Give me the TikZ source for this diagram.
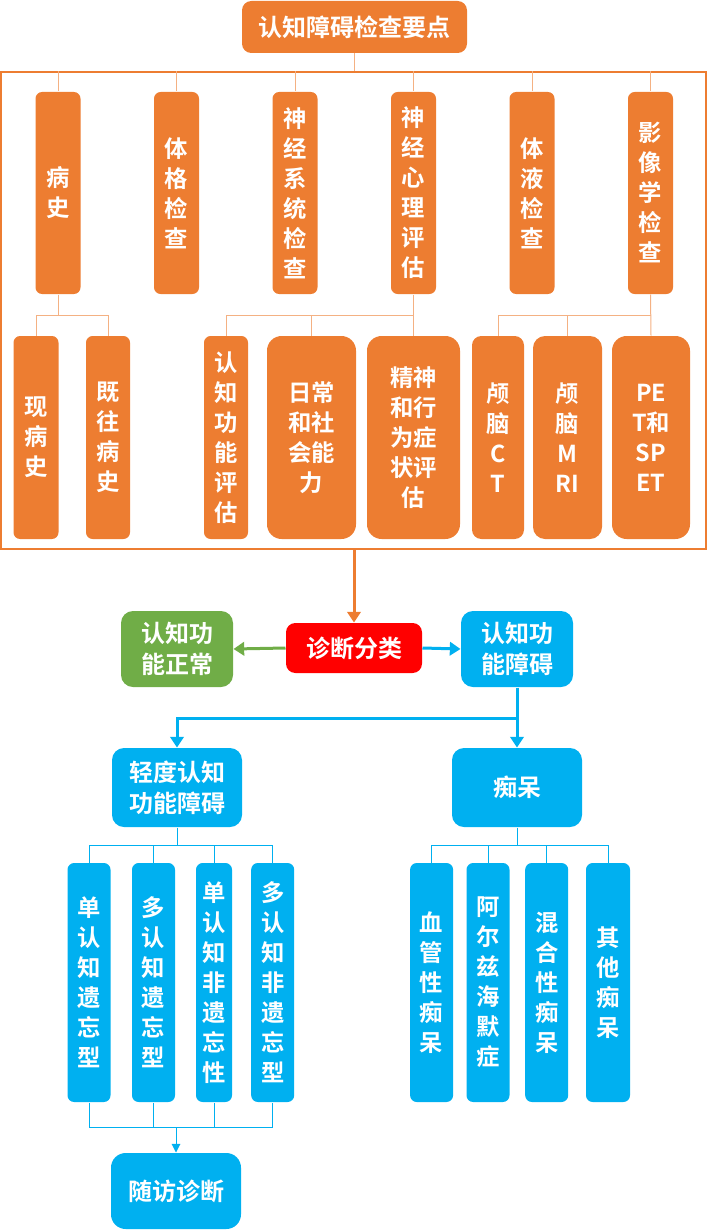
\documentclass[tikz,border=0pt]{standalone}
\usepackage{fontspec}
\setmainfont{Noto Sans CJK SC}[BoldFont={* Bold}]
\usetikzlibrary{arrows.meta}

\definecolor{boxorange}{RGB}{237,125,49}
\definecolor{lineorange}{RGB}{244,177,131}
\definecolor{boxblue}{RGB}{0,176,240}
\definecolor{boxgreen}{RGB}{112,173,71}
\definecolor{boxred}{RGB}{255,0,0}

\tikzset{every picture/.style={line width=0.75pt}}
\tikzset{
  obox/.style={fill=boxorange, rounded corners=5pt, text=white, align=center, inner sep=0pt,
    font=\bfseries\fontsize{17.5}{22.5}\selectfont},
  bbox/.style={obox, fill=boxblue},
  wbox/.style={fill=#1, rounded corners=7pt, text=white, align=center, inner sep=0pt,
    font=\bfseries\fontsize{18}{23}\selectfont},
  oline/.style={draw=lineorange, line width=0.75pt},
  bline/.style={draw=boxblue, line width=0.75pt},
  thick arrow/.style={draw=#1, line width=2.25pt, -{Triangle[width=10pt,length=8pt]}},
  thin arrow/.style={draw=boxblue, line width=0.75pt, -{Triangle[width=6.5pt,length=6.5pt]}}
}

\begin{document}
\begin{tikzpicture}[x=0.75pt,y=0.75pt,yscale=-1,xscale=1]
\useasboundingbox (0,0) rectangle (707,1231);

% Top box
\node [wbox=boxorange, minimum width=168.75pt, minimum height=39pt] (main) at (354.5,27) {认知障碍检查要点};
% Frame
\node [draw=boxorange, line width=1pt, minimum width=528.75pt, minimum height=357.75pt, inner sep=0pt] (frame) at (353.5,310.5) {};
\coordinate (bus1) at (0,315);

% First row
\node [obox, minimum width=33.75pt, minimum height=151.5pt] (bs) at (58,193) {病\\史};
\node [obox, minimum width=33.75pt, minimum height=151.5pt] (tg) at (176.5,193) {体\\格\\检\\查};
\node [obox, minimum width=33.75pt, minimum height=151.5pt] (sj) at (295,193) {神\\经\\系\\统\\检\\查};
\node [obox, minimum width=33.75pt, minimum height=151.5pt] (xl) at (413.5,193) {神\\经\\心\\理\\评\\估};
\node [obox, minimum width=33.75pt, minimum height=151.5pt] (ty) at (532,193) {体\\液\\检\\查};
\node [obox, minimum width=33.75pt, minimum height=151.5pt] (yx) at (650.5,193) {影\\像\\学\\检\\查};

% Second row
\node [obox, minimum width=33.75pt, minimum height=152.25pt] (xbs) at (36,437.5) {现\\病\\史};
\node [obox, minimum width=33pt, minimum height=152.25pt] (jwbs) at (108,437.5) {既\\往\\病\\史};
\node [obox, minimum width=33pt, minimum height=152.25pt] (rzpg) at (226,437.5) {认\\知\\功\\能\\评\\估};
\node [obox, rounded corners=11pt, minimum width=66.75pt, minimum height=152.25pt] (rcsh) at (311.5,437.5) {日常\\和社\\会能\\力};
\node [obox, rounded corners=11pt, minimum width=69.75pt, minimum height=152.25pt] (jsxw) at (413.5,437.5) {精神\\和行\\为症\\状评\\估};
\node [obox, rounded corners=7pt, minimum width=39pt, minimum height=152.25pt] (ct) at (498,437.5) {颅\\脑\\C\\T};
\node [obox, rounded corners=9pt, minimum width=51.75pt, minimum height=152.25pt] (mri) at (567.5,437.5) {颅\\脑\\M\\RI};
\node [obox, rounded corners=11pt, minimum width=58.5pt, minimum height=152.25pt] (pet) at (651,437.5) {PE\\T和\\SP\\ET};

% Connectors in frame
\draw [oline] (main.south) -- (frame.north -| main.south);
\foreach \n in {bs,tg,sj,xl,ty,yx}
  \draw [oline] (frame.north -| \n.north) -- (\n.north);
\draw [oline] (bs.south) -- (bs.south |- bus1);
\draw [oline] (xbs.north) |- (jwbs.north |- bus1) -- (jwbs.north);
\draw [oline] (xl.south) -- (jsxw.north);
\draw [oline] (rzpg.north) |- (xl.south |- bus1);
\draw [oline] (rcsh.north) -- (rcsh.north |- bus1);
\draw [oline] (yx.south) -- (pet.north);
\draw [oline] (ct.north) |- (yx.south |- bus1);
\draw [oline] (mri.north) -- (mri.north |- bus1);

% Diagnosis
\node [wbox=boxred, minimum width=102pt, minimum height=37.5pt] (zd) at (354,648) {诊断分类};
\node [wbox=boxgreen, rounded corners=9pt, minimum width=84pt, minimum height=57pt] (zc) at (177,649) {认知功\\能正常};
\node [wbox=boxblue, rounded corners=9pt, minimum width=84pt, minimum height=57pt] (za) at (517,649) {认知功\\能障碍};
\node [wbox=boxblue, rounded corners=9pt, minimum width=97.5pt, minimum height=59.25pt] (mci) at (177,787.5) {轻度认知\\功能障碍};
\node [wbox=boxblue, rounded corners=9pt, minimum width=97.5pt, minimum height=59.25pt] (cd) at (517,787.5) {痴呆};
\coordinate (bus2) at (0,718);

\draw [thick arrow=boxorange] (frame.south -| zd.north) -- (zd.north);
\draw [thick arrow=boxgreen] (zd.west) -- (zc.east);
\draw [thick arrow=boxblue] (zd.east) -- (za.west);
\draw [thick arrow=boxblue] (za.south) -- (cd.north);
\draw [thick arrow=boxblue] (za.south |- bus2) -| (mci.north);

% Bottom left
\node [bbox, minimum width=32.25pt, minimum height=179.25pt] (dy) at (89,982.5) {单\\认\\知\\遗\\忘\\型};
\node [bbox, minimum width=32.25pt, minimum height=179.25pt] (duo) at (153.5,982.5) {多\\认\\知\\遗\\忘\\型};
\node [bbox, minimum width=27pt, minimum height=179.25pt] (dfy) at (214,982.5) {单\\认\\知\\非\\遗\\忘\\性};
\node [bbox, minimum width=32.25pt, minimum height=179.25pt] (duofy) at (272.7,982.5) {多\\认\\知\\非\\遗\\忘\\型};
\node [wbox=boxblue, rounded corners=11pt, minimum width=97.5pt, minimum height=57pt] (sf) at (176,1191) {随访诊断};
\coordinate (bus3) at (0,845);
\coordinate (bus4) at (0,1127);

\draw [bline] (mci.south) -- (mci.south |- bus3);
\draw [bline] (dy.north) |- (duofy.north |- bus3) -- (duofy.north);
\draw [bline] (duo.north) -- (duo.north |- bus3);
\draw [bline] (dfy.north) -- (dfy.north |- bus3);
\draw [bline] (dy.south) |- (duofy.south |- bus4) -- (duofy.south);
\draw [bline] (duo.south) -- (duo.south |- bus4);
\draw [bline] (dfy.south) -- (dfy.south |- bus4);
\draw [thin arrow] (sf.north |- bus4) -- (sf.north);

% Bottom right
\node [bbox, minimum width=32.25pt, minimum height=179.25pt] (xg) at (431.6,982.5) {血\\管\\性\\痴\\呆};
\node [bbox, minimum width=32.25pt, minimum height=179.25pt] (aez) at (488,982.5) {阿\\尔\\兹\\海\\默\\症};
\node [bbox, minimum width=32.25pt, minimum height=179.25pt] (hh) at (546.7,982.5) {混\\合\\性\\痴\\呆};
\node [bbox, minimum width=33pt, minimum height=179.25pt] (qt) at (608,982.5) {其\\他\\痴\\呆};

\draw [bline] (cd.south) -- (cd.south |- bus3);
\draw [bline] (xg.north) |- (qt.north |- bus3) -- (qt.north);
\draw [bline] (aez.north) -- (aez.north |- bus3);
\draw [bline] (hh.north) -- (hh.north |- bus3);

\end{tikzpicture}
\end{document}
